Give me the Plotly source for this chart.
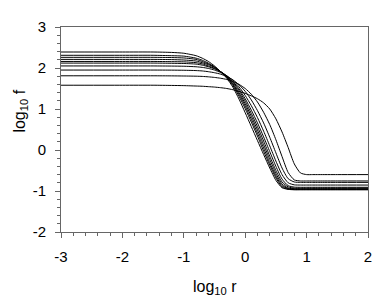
import plotly.graph_objects as go

x_vals = [-3, -2, -1.5, -1.2, -1.0, -0.8, -0.7, -0.6, -0.5, -0.4, -0.3, -0.2, -0.1, 0,
          0.1, 0.2, 0.3, 0.4, 0.5, 0.6, 0.7, 0.8, 0.9, 1.0, 1.1, 1.2, 1.5, 2]

curve_0 = [2.39, 2.39, 2.39, 2.38, 2.36, 2.30, 2.24, 2.16, 2.05, 1.91, 1.75, 1.53, 1.24, 0.91,
           0.57, 0.23, -0.11, -0.44, -0.74, -0.92, -0.96, -0.97, -0.97, -0.97, -0.97, -0.97, -0.97, -0.97]
curve_1 = [2.31, 2.31, 2.31, 2.30, 2.29, 2.24, 2.19, 2.12, 2.03, 1.91, 1.77, 1.57, 1.31, 1.01,
           0.68, 0.34, -0.03, -0.37, -0.68, -0.90, -0.955, -0.965, -0.965, -0.965, -0.965, -0.965, -0.965, -0.965]
curve_2 = [2.26, 2.26, 2.26, 2.255, 2.245, 2.21, 2.16, 2.10, 2.02, 1.91, 1.78, 1.60, 1.36, 1.07,
           0.75, 0.41, 0.05, -0.31, -0.63, -0.87, -0.94, -0.955, -0.955, -0.955, -0.955, -0.955, -0.955, -0.955]
curve_3 = [2.21, 2.21, 2.21, 2.205, 2.195, 2.17, 2.13, 2.08, 2.01, 1.91, 1.79, 1.62, 1.40, 1.13,
           0.82, 0.49, 0.13, -0.23, -0.57, -0.83, -0.93, -0.945, -0.945, -0.945, -0.945, -0.945, -0.945, -0.945]
curve_4 = [2.16, 2.16, 2.16, 2.155, 2.15, 2.13, 2.10, 2.05, 1.99, 1.91, 1.80, 1.65, 1.45, 1.19,
           0.89, 0.57, 0.22, -0.15, -0.50, -0.78, -0.90, -0.93, -0.93, -0.93, -0.93, -0.93, -0.93, -0.93]
curve_5 = [2.12, 2.12, 2.12, 2.115, 2.11, 2.095, 2.07, 2.03, 1.98, 1.91, 1.81, 1.67, 1.49, 1.25,
           0.97, 0.66, 0.32, -0.04, -0.40, -0.71, -0.87, -0.905, -0.91, -0.91, -0.91, -0.91, -0.91, -0.91]
curve_6 = [2.05, 2.05, 2.05, 2.047, 2.043, 2.03, 2.015, 1.99, 1.95, 1.89, 1.81, 1.70, 1.54, 1.33,
           1.08, 0.79, 0.46, 0.10, -0.27, -0.60, -0.80, -0.85, -0.855, -0.855, -0.855, -0.855, -0.855, -0.855]
curve_7 = [1.95, 1.95, 1.95, 1.948, 1.945, 1.937, 1.928, 1.91, 1.885, 1.85, 1.79, 1.71, 1.59, 1.43,
           1.22, 0.96, 0.66, 0.31, -0.07, -0.44, -0.70, -0.78, -0.79, -0.79, -0.79, -0.79, -0.79, -0.79]
curve_8 = [1.81, 1.81, 1.81, 1.808, 1.805, 1.80, 1.795, 1.785, 1.77, 1.75, 1.72, 1.67, 1.60, 1.50,
           1.36, 1.17, 0.92, 0.62, 0.25, -0.16, -0.55, -0.73, -0.755, -0.755, -0.755, -0.755, -0.755, -0.755]
curve_9 = [1.58, 1.58, 1.58, 1.575, 1.57, 1.56, 1.555, 1.545, 1.535, 1.52, 1.50, 1.47, 1.43, 1.38,
           1.32, 1.25, 1.15, 1.00, 0.76, 0.44, 0.06, -0.34, -0.56, -0.60, -0.60, -0.60, -0.60, -0.60]

curves = [curve_0, curve_1, curve_2, curve_3, curve_4, curve_5, curve_6, curve_7, curve_8, curve_9]

x_ticks = [-3, -2, -1, 0, 1, 2]
y_ticks = [-2, -1, 0, 1, 2, 3]

fig = go.Figure()
for ys in curves:
    fig.add_trace(go.Scatter(x=x_vals, y=ys, mode="lines",
                             line=dict(color="black", width=1, shape="spline", smoothing=0.6),
                             showlegend=False, hoverinfo="skip"))

axis_common = dict(
    showgrid=False, zeroline=False, showline=True, linecolor="#666666", linewidth=1,
    mirror=True, ticks="outside", ticklen=5, tickcolor="#666666", tickwidth=1,
    tickfont=dict(family="Liberation Sans, Arial, sans-serif", size=15, color="black"),
    minor=dict(dtick=0.2, ticks="outside", ticklen=3, tickcolor="#666666", tickwidth=1, showgrid=False),
)

fig.update_xaxes(range=[-3, 2], tickvals=x_ticks, ticktext=[str(v) for v in x_ticks],
                 ticklabelstandoff=6, **axis_common)
fig.update_yaxes(range=[-2, 3], tickvals=y_ticks, ticktext=[str(v) for v in y_ticks],
                 ticklabelstandoff=6, **axis_common)

fig.add_annotation(text="log<sub>10</sub> r", xref="paper", yref="paper", x=0.5, y=-0.215,
                   xanchor="center", yanchor="top", showarrow=False,
                   font=dict(family="Liberation Sans, Arial, sans-serif", size=16, color="black"))
fig.add_annotation(text="log<sub>10</sub> f", xref="paper", yref="paper", x=-0.135, y=0.59,
                   xanchor="center", yanchor="middle", textangle=-90, showarrow=False,
                   font=dict(family="Liberation Sans, Arial, sans-serif", size=16, color="black"))

# page body has an 8px margin, so the figure is sized to fit the 388x303 window
fig.update_layout(width=380, height=295, margin=dict(l=53, r=20, t=10, b=71),
                  plot_bgcolor="white", paper_bgcolor="white")

fig.write_html("out.html")
